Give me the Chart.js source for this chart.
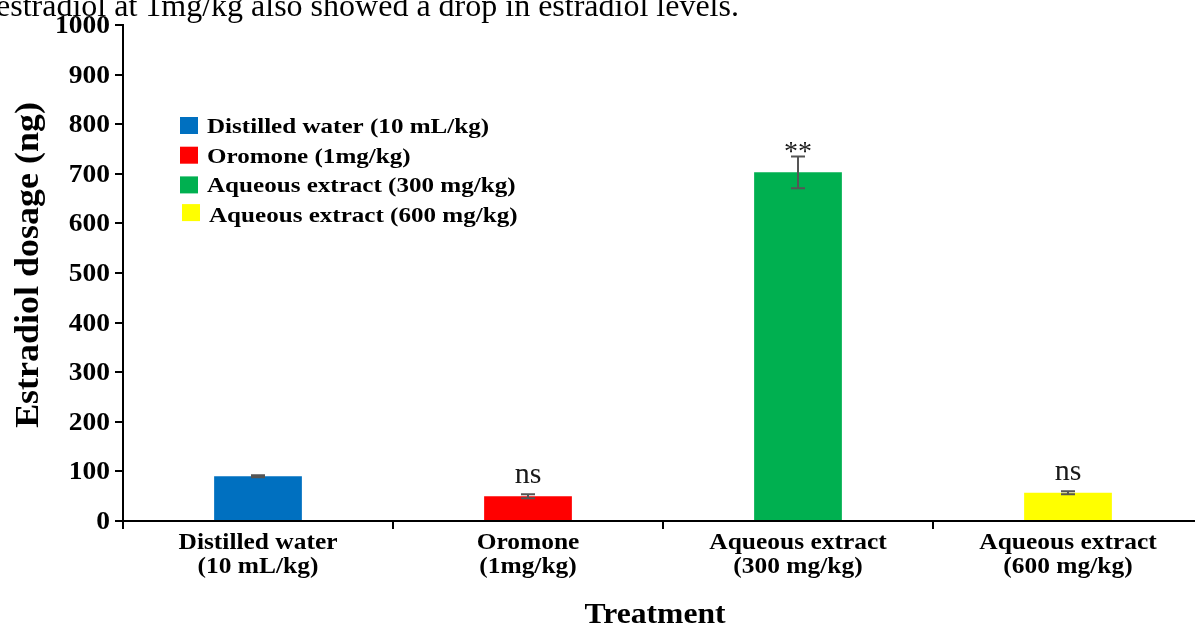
<!DOCTYPE html>
<html>
<head>
<meta charset="utf-8">
<script src="https://cdn.jsdelivr.net/npm/chart.js@4"></script>
<style>
  html, body { margin: 0; padding: 0; background: #fff; overflow: hidden; width: 1195px; height: 626px; }
  #wrap { position: absolute; left: 0; top: 0; width: 1210px; height: 626px; }
  #topText { position: absolute; left: -4px; top: -11px; font-family: "Liberation Serif", serif; font-size: 32px; line-height: 32px; color: #000; white-space: nowrap; }
</style>
</head>
<body>
<div id="wrap"><canvas id="c" width="1210" height="626"></canvas></div>
<div id="topText">estradiol at 1mg/kg also showed a drop in estradiol levels.</div>
<script>
const categories = [["Distilled water", "(10 mL/kg)"], ["Oromone", "(1mg/kg)"], ["Aqueous extract", "(300 mg/kg)"], ["Aqueous extract", "(600 mg/kg)"]];
const legendLabels = ["Distilled water (10 mL/kg)", "Oromone (1mg/kg)", "Aqueous extract (300 mg/kg)", "Aqueous extract (600 mg/kg)"];
const values = [90, 50, 703, 57];
const errors = [2, 4, 32, 3];
const significance = ["", "ns", "**", "ns"];
const barColors = ["#0070C0", "#FF0000", "#00B050", "#FFFF00"];
const yTicks = [0, 100, 200, 300, 400, 500, 600, 700, 800, 900, 1000];
const yTitle = "Estradiol dosage (ng)";
const xTitle = "Treatment";

const SERIF = '"Liberation Serif", "Times New Roman", serif';

function stretchText(ctx, text, x, y, font, sx, align, baseline) {
  ctx.save();
  ctx.translate(x, y);
  ctx.scale(sx, 1);
  ctx.font = font;
  ctx.textAlign = align;
  ctx.textBaseline = baseline || 'alphabetic';
  ctx.fillText(text, 0, 0);
  ctx.restore();
}

const extras = {
  id: 'extras',
  afterDatasetsDraw(chart) {
    const ctx = chart.ctx;
    const x = chart.scales.x, y = chart.scales.y;
    const area = chart.chartArea;
    ctx.save();
    // small extension of the y axis below the x axis
    ctx.strokeStyle = '#000';
    ctx.lineWidth = 2;
    ctx.beginPath();
    ctx.moveTo(area.left, area.bottom);
    ctx.lineTo(area.left, area.bottom + 7);
    ctx.stroke();
    // error bars
    ctx.strokeStyle = '#555';
    ctx.lineWidth = 2;
    values.forEach((v, i) => {
      const px = x.getPixelForValue(i);
      const top = y.getPixelForValue(v + errors[i]);
      const bot = y.getPixelForValue(v - errors[i]);
      ctx.beginPath();
      ctx.moveTo(px, top); ctx.lineTo(px, bot);
      ctx.moveTo(px - 7, top); ctx.lineTo(px + 7, top);
      ctx.moveTo(px - 7, bot); ctx.lineTo(px + 7, bot);
      ctx.stroke();
    });
    // significance labels
    ctx.fillStyle = '#1a1a1a';
    significance.forEach((s, i) => {
      if (!s) return;
      const px = x.getPixelForValue(i);
      const top = y.getPixelForValue(values[i] + errors[i]);
      if (s === '**') {
        stretchText(ctx, s, px, top + 4, '28px ' + SERIF, 1.0, 'center');
      } else {
        stretchText(ctx, s, px, top - 11, '30px ' + SERIF, 1.0, 'center');
      }
    });
    // y tick labels
    ctx.fillStyle = '#000';
    yTicks.forEach(v => {
      const py = y.getPixelForValue(v);
      stretchText(ctx, String(v), 110, py + 8, 'bold 25px ' + SERIF, 1.1, 'right');
    });
    // x tick labels
    categories.forEach((lines, i) => {
      const px = x.getPixelForValue(i);
      lines.forEach((t, j) => {
        stretchText(ctx, t, px, 549 + j * 24, 'bold 24px ' + SERIF, 1.06, 'center');
      });
    });
    // axis titles
    stretchText(ctx, xTitle, (area.left + area.right) / 2 - 8, 623, 'bold 29px ' + SERIF, 1.09, 'center');
    ctx.save();
    ctx.translate(29, 265);
    ctx.rotate(-Math.PI / 2);
    stretchText(ctx, yTitle, 0, 0, 'bold 33px ' + SERIF, 1.09, 'center', 'middle');
    ctx.restore();
    // legend
    const lx = 180, ly0 = 125, dy = 29.7;
    legendLabels.forEach((t, i) => {
      const cy = ly0 + i * dy;
      const off = i === 3 ? 2 : 0;
      ctx.fillStyle = barColors[i];
      ctx.fillRect(lx + off, cy - 8 - (i === 3 ? 2 : 0), 18, 17);
      ctx.fillStyle = '#000';
      stretchText(ctx, t, 207 + off, cy + 8, 'bold 22px ' + SERIF, 1.14, 'left');
    });
    ctx.restore();
  }
};

new Chart(document.getElementById('c'), {
  type: 'bar',
  data: {
    labels: categories,
    datasets: [{
      data: values,
      backgroundColor: barColors,
      borderWidth: 0,
      categoryPercentage: 1.0,
      barPercentage: 0.325
    }]
  },
  options: {
    responsive: false,
    animation: false,
    devicePixelRatio: 1,
    layout: { padding: { top: 25, left: 0, right: 7, bottom: 0 } },
    plugins: { legend: { display: false }, tooltip: { enabled: false } },
    scales: {
      y: {
        min: 0, max: 1000,
        afterFit(scale) { scale.width = 123; },
        afterBuildTicks(scale) { scale.ticks = yTicks.map(v => ({ value: v })); },
        border: { display: true, color: '#000', width: 2 },
        grid: { display: true, drawOnChartArea: false, drawTicks: true, tickLength: 8, color: '#000', lineWidth: 2 },
        ticks: { color: 'rgba(0,0,0,0)', padding: 3, callback: v => String(v), font: { family: SERIF, size: 22, weight: 'bold' } },
        title: { display: false }
      },
      x: {
        afterFit(scale) { scale.height = 105; },
        border: { display: true, color: '#000', width: 2 },
        grid: { display: true, drawOnChartArea: false, drawTicks: true, tickLength: 8, color: '#000', lineWidth: 2, offset: true },
        ticks: { color: 'rgba(0,0,0,0)', padding: 4, maxRotation: 0, autoSkip: false, font: { family: SERIF, size: 19, weight: 'bold', lineHeight: 1.3 } },
        title: { display: false }
      }
    }
  },
  plugins: [extras]
});
</script>
</body>
</html>
